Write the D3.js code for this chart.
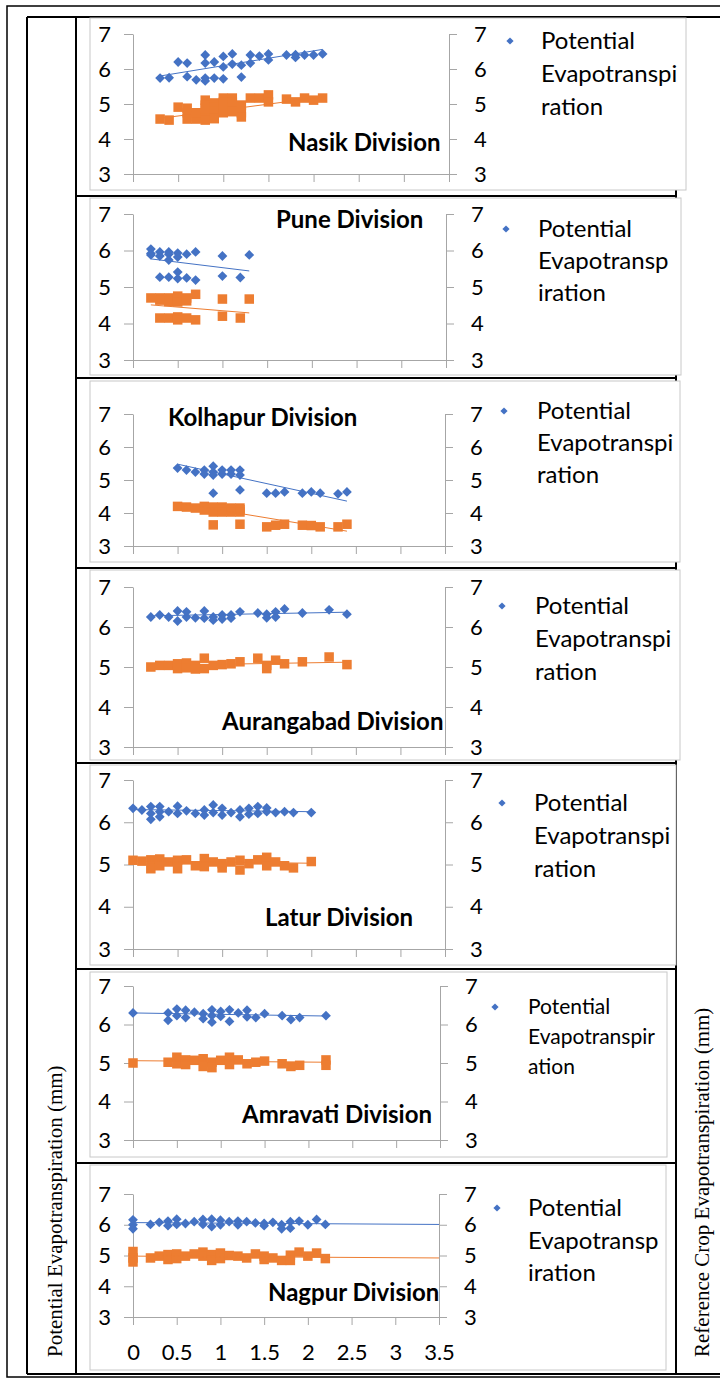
<!DOCTYPE html>
<html><head><meta charset="utf-8">
<script src="https://cdn.jsdelivr.net/npm/d3@7"></script>
<style>html,body{margin:0;padding:0;background:#fff;} svg{display:block}</style>
</head><body>
<svg id="c" width="720" height="1378"></svg>
<script>
// ---------------- DATA ----------------
const yTicks = [3, 4, 5, 6, 7];
const xTicks = [0, 0.5, 1, 1.5, 2, 2.5, 3, 3.5];
const divisions = ["Nasik Division", "Pune Division", "Kolhapur Division", "Aurangabad Division", "Latur Division", "Amravati Division", "Nagpur Division"];
const legendLines = [
  ["Potential", "Evapotranspi", "ration"],
  ["Potential", "Evapotransp", "iration"],
  ["Potential", "Evapotranspi", "ration"],
  ["Potential", "Evapotranspi", "ration"],
  ["Potential", "Evapotranspi", "ration"],
  ["Potential", "Evapotranspir", "ation"],
  ["Potential", "Evapotransp", "iration"]
];
const leftTitle = "Potential Evapotranspiration (mm)";
const rightTitle = "Reference Crop Evapotranspiration (mm)";

// [x, value] pairs : PET = potential evapotranspiration (blue), RCET = reference crop ET (orange)
const nasikPET = [[0.3,5.74],[0.4,5.75],[0.5,6.2],[0.6,6.17],[0.6,5.78],[0.7,5.69],[0.8,6.4],[0.8,6.17],[0.8,5.74],[0.8,5.66],[0.9,6.2],[0.9,5.74],[1.0,6.36],[1.0,6.06],[1.0,5.72],[1.1,6.43],[1.1,6.14],[1.2,6.11],[1.2,5.77],[1.3,6.4],[1.3,6.17],[1.4,6.37],[1.5,6.43],[1.5,6.26],[1.7,6.4],[1.8,6.41],[1.8,6.33],[1.9,6.4],[2.0,6.4],[2.1,6.43]];
const nasikRCET = [[0.3,4.57],[0.4,4.54],[0.5,4.91],[0.6,4.88],[0.6,4.75],[0.6,4.57],[0.7,4.57],[0.7,4.65],[0.7,4.75],[0.8,5.11],[0.8,4.97],[0.8,4.88],[0.8,4.75],[0.8,4.6],[0.8,4.54],[0.9,5.03],[0.9,4.92],[0.9,4.8],[0.9,4.58],[1.0,5.17],[1.0,5.05],[1.0,4.88],[1.0,4.75],[1.1,5.17],[1.1,5.05],[1.1,4.88],[1.1,4.78],[1.2,4.97],[1.2,4.75],[1.2,4.63],[1.3,5.17],[1.4,5.17],[1.5,5.26],[1.5,5.06],[1.7,5.14],[1.8,5.06],[1.9,5.17],[2.0,5.11],[2.1,5.17]];
const punePET = [[0.2,6.04],[0.2,5.92],[0.2,5.88],[0.3,5.96],[0.3,5.85],[0.4,5.96],[0.4,5.9],[0.4,5.74],[0.5,5.93],[0.5,5.82],[0.6,5.9],[0.7,5.96],[1.0,5.85],[1.3,5.88],[0.3,5.27],[0.4,5.27],[0.5,5.41],[0.5,5.23],[0.6,5.25],[0.7,5.19],[1.0,5.3],[1.2,5.26]];
const puneRCET = [[0.2,4.7],[0.3,4.7],[0.3,4.64],[0.4,4.7],[0.4,4.6],[0.5,4.75],[0.5,4.59],[0.6,4.7],[0.6,4.62],[0.7,4.8],[1.0,4.67],[1.3,4.67],[0.3,4.15],[0.4,4.15],[0.5,4.18],[0.5,4.1],[0.6,4.15],[0.7,4.1],[1.0,4.2],[1.2,4.15]];
const kolhapurPET = [[0.5,5.36],[0.6,5.3],[0.7,5.24],[0.8,5.3],[0.8,5.18],[0.9,5.42],[0.9,5.24],[0.9,5.15],[1.0,5.3],[1.0,5.18],[1.1,5.3],[1.1,5.18],[1.2,5.3],[1.2,5.15],[0.9,4.6],[1.2,4.7],[1.5,4.6],[1.6,4.6],[1.7,4.64],[1.9,4.6],[2.0,4.64],[2.1,4.6],[2.3,4.58],[2.4,4.64]];
const kolhapurRCET = [[0.5,4.2],[0.6,4.18],[0.7,4.15],[0.8,4.2],[0.8,4.09],[0.9,4.18],[0.9,4.03],[0.9,3.64],[1.0,4.18],[1.0,4.1],[1.0,4.03],[1.1,4.15],[1.1,4.1],[1.1,4.03],[1.2,4.15],[1.2,4.1],[1.2,4.03],[1.2,3.66],[1.5,3.58],[1.6,3.63],[1.7,3.66],[1.9,3.63],[2.0,3.62],[2.1,3.58],[2.3,3.58],[2.4,3.66]];
const aurangabadPET = [[0.2,6.25],[0.3,6.3],[0.4,6.25],[0.5,6.4],[0.5,6.15],[0.6,6.38],[0.6,6.25],[0.7,6.23],[0.8,6.4],[0.8,6.22],[0.9,6.25],[0.9,6.17],[1.0,6.3],[1.0,6.2],[1.1,6.3],[1.1,6.22],[1.2,6.38],[1.4,6.35],[1.5,6.32],[1.5,6.23],[1.6,6.38],[1.6,6.25],[1.7,6.45],[1.9,6.35],[2.2,6.43],[2.4,6.32]];
const aurangabadRCET = [[0.2,5.0],[0.3,5.04],[0.4,5.04],[0.5,5.08],[0.5,4.96],[0.6,5.1],[0.6,4.98],[0.7,5.04],[0.7,4.95],[0.8,5.22],[0.8,4.96],[0.9,5.04],[1.0,5.06],[1.1,5.08],[1.2,5.13],[1.4,5.22],[1.5,5.04],[1.5,4.96],[1.6,5.17],[1.7,5.08],[1.9,5.13],[2.2,5.25],[2.4,5.06]];
const laturPET = [[0,6.33],[0.1,6.29],[0.2,6.37],[0.2,6.21],[0.2,6.07],[0.3,6.37],[0.3,6.25],[0.3,6.13],[0.4,6.25],[0.5,6.38],[0.5,6.21],[0.6,6.27],[0.7,6.21],[0.8,6.29],[0.8,6.17],[0.9,6.41],[0.9,6.23],[1.0,6.33],[1.0,6.17],[1.1,6.23],[1.2,6.29],[1.2,6.13],[1.3,6.33],[1.3,6.19],[1.4,6.37],[1.4,6.21],[1.5,6.34],[1.5,6.25],[1.6,6.23],[1.7,6.25],[1.8,6.23],[2.0,6.23]];
const laturRCET = [[0,5.1],[0.1,5.08],[0.2,5.11],[0.2,4.9],[0.3,5.13],[0.3,4.97],[0.4,5.06],[0.5,5.1],[0.5,4.9],[0.6,5.11],[0.7,4.97],[0.8,5.14],[0.8,4.95],[0.9,5.06],[1.0,5.02],[1.0,4.92],[1.1,5.06],[1.2,5.1],[1.2,4.87],[1.3,5.02],[1.4,5.11],[1.5,5.17],[1.5,4.97],[1.6,5.06],[1.7,4.97],[1.8,4.92],[2.0,5.07]];
const amravatiPET = [[0,6.3],[0.4,6.3],[0.4,6.11],[0.5,6.4],[0.5,6.23],[0.6,6.37],[0.6,6.18],[0.7,6.32],[0.8,6.28],[0.8,6.15],[0.9,6.38],[0.9,6.23],[0.9,6.06],[1.0,6.34],[1.0,6.21],[1.1,6.38],[1.1,6.08],[1.2,6.3],[1.3,6.37],[1.3,6.2],[1.4,6.18],[1.5,6.28],[1.7,6.23],[1.8,6.13],[1.9,6.18],[2.2,6.23]];
const amravatiRCET = [[0,5.0],[0.4,5.02],[0.5,5.15],[0.5,4.98],[0.6,5.08],[0.6,4.96],[0.7,5.07],[0.8,5.11],[0.8,4.91],[0.9,5.02],[0.9,4.88],[1.0,5.07],[1.1,5.15],[1.1,4.96],[1.2,5.08],[1.3,4.98],[1.4,5.02],[1.5,5.05],[1.7,4.98],[1.8,4.91],[1.9,4.94],[2.2,5.08],[2.2,4.94]];
const nagpurPET = [[0,6.16],[0,6.0],[0,5.87],[0.2,6.01],[0.3,6.08],[0.4,6.12],[0.4,5.97],[0.5,6.18],[0.5,6.01],[0.6,6.04],[0.7,6.1],[0.8,6.17],[0.8,6.01],[0.9,6.18],[0.9,5.94],[1.0,6.15],[1.0,6.0],[1.1,6.1],[1.2,6.12],[1.2,6.0],[1.3,6.1],[1.4,6.06],[1.5,6.04],[1.5,5.97],[1.6,6.08],[1.7,6.0],[1.7,5.87],[1.8,6.1],[1.8,5.89],[1.9,6.12],[2.0,6.0],[2.1,6.17],[2.2,6.01]];
const nagpurRCET = [[0,5.13],[0,4.92],[0,4.79],[0.2,4.92],[0.3,4.98],[0.4,5.03],[0.4,4.87],[0.5,5.05],[0.5,4.9],[0.6,4.98],[0.7,5.05],[0.8,5.11],[0.8,4.98],[0.9,5.03],[0.9,4.84],[1.0,5.08],[1.0,4.9],[1.1,5.0],[1.2,4.98],[1.3,4.92],[1.4,5.05],[1.5,4.98],[1.5,4.87],[1.6,4.92],[1.7,4.84],[1.8,5.01],[1.8,4.84],[1.9,5.11],[2.0,4.98],[2.1,5.08],[2.2,4.9]];

// linear trend lines (start / end)
const petTrends = [[[0.3,5.8],[2.1,6.56]], [[0.2,5.77],[1.3,5.44]], [[0.5,5.48],[2.4,4.36]], [[0.2,6.28],[2.4,6.37]], [[0,6.3],[2.0,6.25]], [[0,6.3],[2.2,6.22]], [[0,6.07],[3.5,6.01]]];
const rcetTrends = [[[0.3,4.59],[2.1,5.2]], [[0.2,4.51],[1.3,4.29]], [[0.5,4.3],[2.4,3.45]], [[0.2,5.04],[2.4,5.12]], [[0,5.08],[2.0,5.03]], [[0,5.06],[2.2,5.02]], [[0,4.98],[3.5,4.92]]];

const petSeries = [nasikPET, punePET, kolhapurPET, aurangabadPET, laturPET, amravatiPET, nagpurPET];
const rcetSeries = [nasikRCET, puneRCET, kolhapurRCET, aurangabadRCET, laturRCET, amravatiRCET, nagpurRCET];

// ---------------- LAYOUT ----------------
const layout = [
  {box:[90,18,686,190],  plot:[133,449,34,174],   leg:[510,41,541,33,24],   title:[288,143],  xLab:false},
  {box:[90,198,681,375], plot:[133,446,214,360],  leg:[506,229,538,32,24],  title:[276,220],  xLab:false},
  {box:[90,381,680,562], plot:[133,445,414,546],  leg:[504,411,537,32,24],  title:[168,418],  xLab:false},
  {box:[90,570,680,760], plot:[133,445,587,747],  leg:[502,606,535,33,24],  title:[222,722],  xLab:false},
  {box:[90,765,676,965], plot:[133,445,780,949],  leg:[502,803,534,33,24],  title:[265,918],  xLab:false},
  {box:[90,972,667,1157],plot:[133,440,986,1140], leg:[495,1007,528,30,21], title:[242,1115], xLab:false},
  {box:[90,1165,666,1370],plot:[133,439,1194,1317],leg:[497,1208,528,32.5,24],title:[268,1293],xLab:true}
];
const BLUE = "#4472C4", ORANGE = "#ED7D31", AXIS = "#A6A6A6", BORDER = "#C8C8C8";
const SANS = "Lato, 'Open Sans', sans-serif";

const svg = d3.select("#c");

// outer frame and table
const frame = svg.append("g").attr("stroke", "#000").attr("fill", "none");
frame.append("rect").attr("x", 7).attr("y", 6).attr("width", 718).attr("height", 1371).attr("stroke-width", 1.5);
frame.append("line").attr("x1", 27).attr("x2", 725).attr("y1", 17).attr("y2", 17).attr("stroke-width", 2);
frame.append("line").attr("x1", 27).attr("x2", 725).attr("y1", 1374).attr("y2", 1374).attr("stroke-width", 2);
[27, 76, 676].forEach(x => frame.append("line").attr("x1", x).attr("x2", x).attr("y1", 17).attr("y2", 1374).attr("stroke-width", 2));
[196, 378, 568, 763, 969, 1163].forEach(y => frame.append("line").attr("x1", 76).attr("x2", 676).attr("y1", y).attr("y2", y).attr("stroke-width", 2));

svg.append("text").attr("transform", "translate(62,1357) rotate(-90)")
  .attr("font-family", "'Liberation Serif', 'Times New Roman', serif").attr("font-size", 21).text(leftTitle);
svg.append("text").attr("transform", "translate(709,1357) rotate(-90)")
  .attr("font-family", "'Liberation Serif', 'Times New Roman', serif").attr("font-size", 21).text(rightTitle);

const diamond = r => `M0,${-r}L${r},0L0,${r}L${-r},0Z`;

layout.forEach((L, i) => {
  const g = svg.append("g");
  const [bx0, by0, bx1, by1] = L.box;
  g.append("rect").attr("x", bx0).attr("y", by0).attr("width", bx1 - bx0).attr("height", by1 - by0)
    .attr("fill", "#fff").attr("stroke", BORDER).attr("stroke-width", 1);

  const [px0, px1, pyT, pyB] = L.plot;
  const x = d3.scaleLinear().domain([0, 3.5]).range([px0, px1]);
  const y = d3.scaleLinear().domain([3, 7]).range([pyB, pyT]);

  const styleAxis = sel => {
    sel.selectAll("path, line").attr("stroke", AXIS);
    sel.selectAll("text").attr("font-family", SANS).attr("font-size", 22).attr("fill", "#000");
  };
  g.append("g").attr("transform", `translate(${px0},0)`)
    .call(d3.axisLeft(y).tickValues(yTicks).tickSize(9).tickSizeOuter(0).tickPadding(13).tickFormat(d3.format("d")))
    .call(styleAxis);
  g.append("g").attr("transform", `translate(${px1},0)`)
    .call(d3.axisRight(y).tickValues(yTicks).tickSize(8).tickSizeOuter(0).tickPadding(17).tickFormat(d3.format("d")))
    .call(styleAxis);
  g.append("g").attr("transform", `translate(0,${pyB})`)
    .call(d3.axisBottom(x).tickValues(xTicks).tickSize(8).tickSizeOuter(0).tickPadding(19)
      .tickFormat(L.xLab ? (d => d3.format("")(d)) : () => ""))
    .call(styleAxis);

  // markers
  g.append("g").selectAll("rect").data(rcetSeries[i]).join("rect")
    .attr("x", d => x(d[0]) - 4.75).attr("y", d => y(d[1]) - 4.75)
    .attr("width", 9.5).attr("height", 9.5).attr("fill", ORANGE);
  g.append("g").selectAll("path").data(petSeries[i]).join("path")
    .attr("transform", d => `translate(${x(d[0])},${y(d[1])})`)
    .attr("d", diamond(4.9)).attr("fill", BLUE);

  // trendlines
  const line = d3.line().x(d => x(d[0])).y(d => y(d[1]));
  g.append("path").attr("d", line(petTrends[i])).attr("stroke", BLUE).attr("stroke-width", 1).attr("fill", "none");
  g.append("path").attr("d", line(rcetTrends[i])).attr("stroke", ORANGE).attr("stroke-width", 1).attr("fill", "none");

  // legend
  const [lx, ly, tx, sp, fs] = L.leg;
  g.append("path").attr("transform", `translate(${lx},${ly})`).attr("d", diamond(3.6)).attr("fill", BLUE);
  g.append("g").selectAll("text").data(legendLines[i]).join("text")
    .attr("x", tx).attr("y", (d, k) => ly + k * sp).attr("dy", "0.35em")
    .attr("font-family", SANS).attr("font-size", fs).attr("fill", "#000").text(d => d);

  // title
  g.append("text").attr("x", L.title[0]).attr("y", L.title[1]).attr("dy", "0.35em")
    .attr("font-family", SANS).attr("font-weight", "bold").attr("font-size", 24).attr("fill", "#000")
    .text(divisions[i]);
});
</script>
</body></html>
